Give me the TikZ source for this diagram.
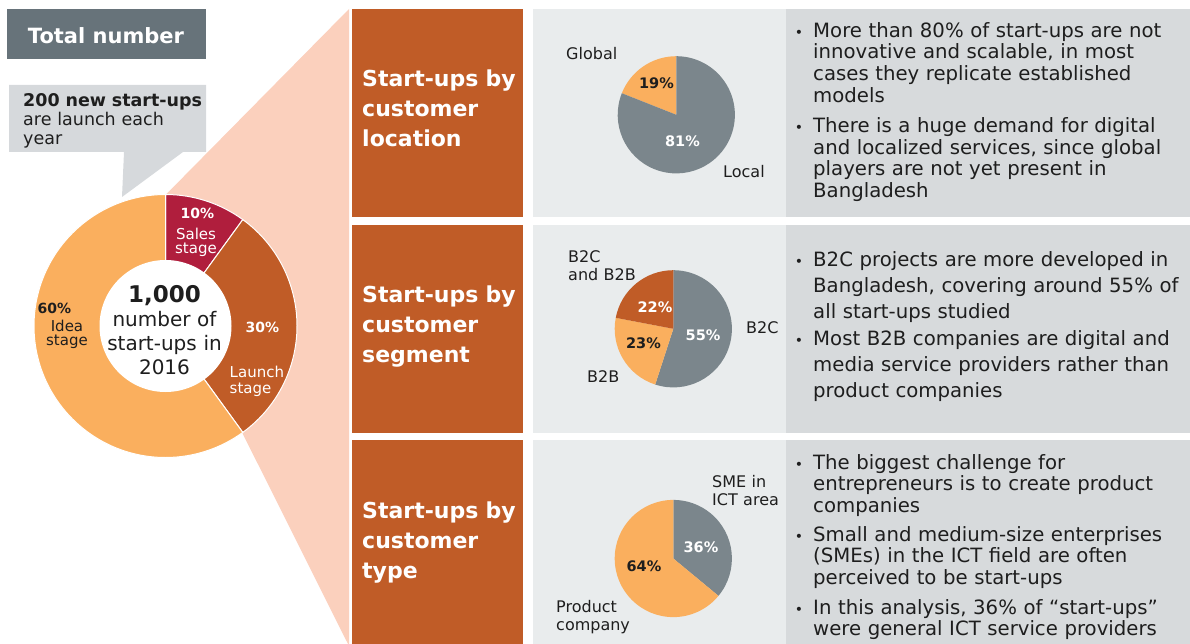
\documentclass[tikz,border=0pt]{standalone}
\usepackage{fontspec}
\setmainfont{DejaVu Sans}

\definecolor{slate}{HTML}{67737A}
\definecolor{callgray}{HTML}{D6D9DC}
\definecolor{peach}{HTML}{FBD0BD}
\definecolor{crimson}{HTML}{B01E3D}
\definecolor{rust}{HTML}{C05C27}
\definecolor{apricot}{HTML}{FAAF5E}
\definecolor{piegray}{HTML}{7B868C}
\definecolor{panelA}{HTML}{E9ECED}
\definecolor{panelB}{HTML}{D7DADC}
\definecolor{ink}{HTML}{1E1E1E}

\newcommand{\pslice}[6]{
	\fill[#6] (#1,#2) -- ++({-(#4)}:#3) arc[start angle={-(#4)}, end angle={-(#5)}, radius=#3] -- cycle;
}

\newcommand{\bpoint}[4]{
	\node[bdot] (#1dot) at (799,#2) {•};
	\node[btxt, font=\fontsize{19.7}{#3}\selectfont] (#1) at (813,#2) {#4};
}

\tikzset{
	ttl/.style={anchor=base west, text=white, font=\fontsize{22}{30}\selectfont\bfseries, text width=170pt, align=left, inner sep=0pt},
	btxt/.style={anchor=base west, text=ink, text width=376pt, align=left, inner sep=0pt},
	bdot/.style={anchor=base, text=ink, font=\fontsize{14}{14}\selectfont, inner sep=0pt},
	pcw/.style={anchor=base, text=white, font=\fontsize{14.5}{15}\selectfont\bfseries, inner sep=0pt},
	pcb/.style={pcw, text=ink},
	lbl/.style={anchor=base west, text=ink, font=\fontsize{16}{18.5}\selectfont, inner sep=0pt, text width=80pt, align=left},
	stg/.style={text=white, font=\fontsize{15}{15}\selectfont, inner sep=0pt, text width=60pt}
}

\begin{document}
\begin{tikzpicture}[x=1pt,y=-1pt]
\useasboundingbox (0,0) rectangle (1190,644);

\pgfmathsetmacro{\dx}{165.5}
\pgfmathsetmacro{\dy}{326}
\pgfmathsetmacro{\dR}{131.5}
\pgfmathsetmacro{\pr}{58.6}

\fill[slate] (7,9) rectangle (206,59);
\node[anchor=base, text=white, font=\fontsize{21}{21}\selectfont\bfseries, inner sep=0pt] (total) at (106,43.3) {Total number};

\fill[callgray] (9,85) -- (206,85) -- (206,152) -- (183,152) -- (122,197) -- (124,152) -- (9,152) -- cycle;
\node[anchor=base west, text=ink, font=\fontsize{17.5}{19}\selectfont, text width=185pt, align=left, inner sep=0pt] (newcount) at (23,107) {\textbf{200 new start-ups}\\are launch each\\year};

\fill[peach] (\dx,195) -- (349,9) -- (349,644) -- (348,644) -- (241.7,431.7) -- cycle;

\pslice{\dx}{\dy}{\dR}{54}{90}{crimson, draw=white, line width=1pt}
\pslice{\dx}{\dy}{\dR}{-54}{54}{rust, draw=white, line width=1pt}
\pslice{\dx}{\dy}{\dR}{90}{306}{apricot, draw=white, line width=1pt}
\fill[white] (\dx,\dy) circle[radius=66];

\node[anchor=base, text=ink, font=\fontsize{20}{24}\selectfont, text width=130pt, align=center, inner sep=0pt] (thousand) at (164.5,302) {{\fontsize{23}{24}\selectfont\bfseries 1,000}\\number of\\start-ups in\\2016};
\node[pcw, font=\fontsize{14}{15}\selectfont\bfseries] (sales) at (197.5,219) {10\%};
\node[stg, anchor=base, align=center, text width=50pt, font=\fontsize{15}{14.7}\selectfont] (salestxt) at (196,239.3) {Sales\\stage};
\node[pcw, font=\fontsize{14}{15}\selectfont\bfseries] (launch) at (262.5,332) {30\%};
\node[stg, anchor=base west, align=left, font=\fontsize{15}{16.5}\selectfont] (launchtxt) at (229.5,377) {Launch\\stage};
\node[pcb, font=\fontsize{14}{15}\selectfont\bfseries] (idea) at (54.5,313) {60\%};
\node[stg, text=ink, anchor=base, align=center, text width=50pt, font=\fontsize{15}{14}\selectfont] (ideatxt) at (67,331.7) {Idea\\stage};

\fill[rust] (352,9) rectangle (523,217);
\fill[rust] (352,225) rectangle (523,433);
\fill[rust] (352,440) rectangle (523,644);
\fill[panelA] (533,9) rectangle (786,217);
\fill[panelA] (533,225) rectangle (786,433);
\fill[panelA] (533,440) rectangle (786,644);
\fill[panelB] (786,9) rectangle (1190,217);
\fill[panelB] (786,225) rectangle (1190,433);
\fill[panelB] (786,440) rectangle (1190,644);

\node[ttl] (location) at (362,87) {Start-ups by\\customer\\location};
\node[ttl] (segment) at (362,302) {Start-ups by\\customer\\segment};
\node[ttl] (type) at (362,518) {Start-ups by\\customer\\type};

\pslice{676.3}{114.8}{\pr}{90}{158.4}{apricot}
\pslice{676.3}{114.8}{\pr}{158.4}{450}{piegray}
\node[lbl] (global) at (566,60) {Global};
\node[pcb] (globalpc) at (656.5,89) {19\%};
\node[pcw] (localpc) at (682.5,147) {81\%};
\node[lbl] (local) at (723,178) {Local};

\pslice{673.3}{328.8}{\pr}{-108}{90}{piegray}
\pslice{673.3}{328.8}{\pr}{169.2}{252}{apricot}
\pslice{673.3}{328.8}{\pr}{90}{169.2}{rust}
\node[lbl] (mixed) at (568,262) {B2C\\and B2B};
\node[pcw] (mixedpc) at (655,312) {22\%};
\node[pcb] (btobpc) at (643.5,348) {23\%};
\node[pcw] (btocpc) at (703,340) {55\%};
\node[lbl] (btoc) at (746,333) {B2C};
\node[lbl] (btob) at (587,382) {B2B};

\pslice{673.3}{558.5}{\pr}{-39.6}{90}{piegray}
\pslice{673.3}{558.5}{\pr}{90}{320.4}{apricot}
\node[lbl] (sme) at (712,487) {SME in\\ICT area};
\node[pcw] (smepc) at (701,552) {36\%};
\node[pcb] (productpc) at (644,571) {64\%};
\node[lbl] (product) at (556,612) {Product\\company};

\bpoint{locA}{37.3}{21.7}{More than 80\% of start-ups are not\\innovative and scalable, in most\\cases they replicate established\\models}
\bpoint{locB}{132.5}{21.7}{There is a huge demand for digital\\and localized services, since global\\players are not yet present in\\Bangladesh}

\bpoint{segA}{266.5}{26}{B2C projects are more developed in\\Bangladesh, covering around 55\% of\\all start-ups studied}
\bpoint{segB}{345}{26}{Most B2B companies are digital and\\media service providers rather than\\product companies}

\bpoint{typA}{469}{21.7}{The biggest challenge for\\entrepreneurs is to create product\\companies}
\bpoint{typB}{541}{21.7}{Small and medium-size enterprises\\(SMEs) in the ICT field are often\\perceived to be start-ups}
\bpoint{typC}{614}{21.7}{In this analysis, 36\% of “start-ups”\\were general ICT service providers}
\end{tikzpicture}
\end{document}
